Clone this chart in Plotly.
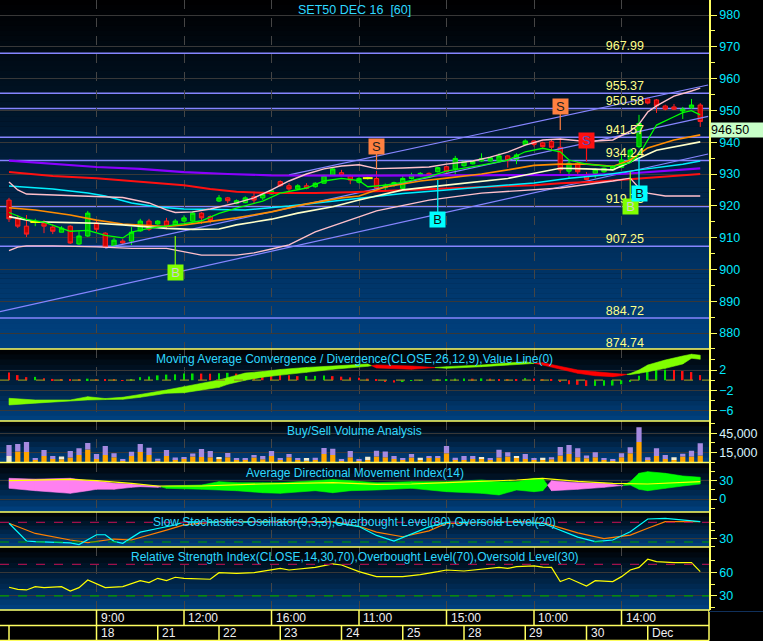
import plotly.graph_objects as go

# ======================= DATA =======================
# 60-minute bars, index 0..79
opens = [921.8,915.9,913.6,914.9,914.5,913.3,911.7,913.6,908.0,910.5,
         914.6,911.4,907.4,908.9,908.9,912.1,915.2,914.3,915.2,914.0,
         915.2,915.2,917.7,916.6,921.5,922.5,920.7,921.0,922.9,922.5,
         923.7,927.6,926.3,925.3,926.3,926.0,927.1,929.7,930.4,929.5,
         927.4,928.7,928.6,925.7,926.6,925.5,928.6,929.5,930.2,930.7,
         932.3,931.6,932.6,933.2,934.1,934.1,934.2,935.7,934.6,939.3,
         940.4,939.8,940.2,938.4,930.9,933.4,929.7,930.2,930.7,931.3,
         932.1,934.6,938.6,953.6,953.3,951.4,951.1,949.8,950.8,951.7]
highs = [922.5,917.1,917.1,915.9,915.5,914.2,913.6,913.9,912.0,918.4,
         915.2,911.7,909.9,909.6,913.3,915.9,915.9,915.5,916.2,915.8,
         917.0,918.4,918.0,917.0,923.4,922.8,922.0,923.0,924.4,924.4,
         925.0,928.0,927.1,926.8,927.1,927.4,929.8,932.2,931.3,929.8,
         929.0,929.2,931.0,927.0,927.6,929.7,930.4,930.6,930.5,932.3,
         932.6,935.7,934.2,934.2,936.5,935.4,936.5,936.0,936.5,940.9,
         940.6,940.2,940.7,941.2,934.4,933.8,930.6,931.8,932.0,932.8,
         936.0,938.0,948.6,954.0,953.6,951.8,952.0,951.1,953.6,952.3]
lows = [914.9,913.0,910.2,913.6,911.4,911.1,911.7,908.0,907.7,910.2,
        911.7,906.7,907.0,907.7,907.7,911.8,912.1,914.0,912.6,913.6,
        914.8,915.0,914.3,914.5,921.2,920.8,920.5,920.8,920.8,921.8,
        923.5,926.0,924.4,925.0,925.2,925.7,927.0,929.5,929.3,926.8,
        927.0,928.2,925.0,924.3,926.0,925.0,928.3,929.3,929.2,930.5,
        930.4,929.9,932.3,933.0,933.9,933.9,934.0,932.0,933.1,939.0,
        938.6,938.2,937.5,930.2,928.6,929.7,928.1,928.7,930.4,931.0,
        932.0,934.3,938.1,951.9,949.2,950.0,950.1,947.3,950.5,944.8]
closes = [915.9,913.6,911.1,914.9,913.6,912.0,913.0,908.3,910.5,917.7,
          912.6,907.0,909.2,908.3,911.7,915.2,912.6,915.2,913.6,915.2,
          916.2,917.7,916.2,915.4,922.5,921.6,921.6,922.5,921.8,923.6,
          924.7,926.3,925.3,926.3,925.5,927.1,929.5,931.6,929.5,928.1,
          928.6,928.7,925.5,926.5,927.3,928.6,929.7,930.2,929.5,932.0,
          930.7,934.9,933.9,933.9,934.9,935.1,935.7,934.2,936.0,940.4,
          939.3,938.6,938.4,931.3,933.4,930.7,928.3,931.5,931.8,932.3,
          934.4,937.5,945.9,952.3,951.4,950.4,950.4,950.4,951.7,946.5]
bars = list(range(len(closes)))

# x-axis labels
time_label_bars = [10, 20, 30, 40, 50, 60, 70]
time_labels = ["9:00", "12:00", "16:00", "11:00", "15:00", "10:00", "14:00"]
date_bars = [0, 10, 17, 24, 31, 38, 45, 52, 59, 66, 73]
date_labels = ["", "18", "21", "22", "23", "24", "25", "28", "29", "30", "Dec"]

# horizontal price levels
levels = [967.99, 955.37, 950.58, 941.57, 934.24, 919.75, 907.25, 884.72, 874.74]

# trend channel lines (start bar, start price, end bar, end price)
trend_x0 = [-1.03, 11, 32]
trend_y0 = [886.7, 906.7, 929.7]
trend_x1 = [79.9, 79.9, 79.9]
trend_y1 = [936.3, 948.1, 958.0]

# overlay lines on price panel (bar index, value)
purple_b = [0, 5, 10, 15, 20, 25, 30, 40, 50, 60, 66, 70, 74, 79]
purple_v = [934.2, 933.1, 932.2, 931.6, 930.6, 930.0, 929.6, 929.5, 929.5, 929.7, 929.7, 930.0, 930.9, 931.8]
red_b = [0, 5, 10, 15, 20, 23, 26, 30, 35, 39, 45, 50, 55, 60, 63, 67, 72, 77, 79]
red_v = [930.6, 929.4, 928.7, 927.6, 926.5, 925.3, 924.4, 924.0, 924.0, 924.3, 925.0, 925.6, 926.0, 926.5, 927.1, 927.6, 928.6, 929.4, 930.0]
cyan_b = [0, 5, 9, 11, 14, 17, 20, 27, 32, 37, 40, 45, 50, 55, 60, 64, 68, 72, 77, 79]
cyan_v = [926.2, 925.3, 924.0, 923.1, 920.9, 919.6, 919.0, 918.7, 919.9, 921.5, 922.5, 923.9, 925.0, 926.1, 927.2, 928.7, 929.7, 931.3, 933.1, 934.1]
bbu_b = [0, 1, 2, 5, 10, 13, 16, 18, 19, 21, 23, 26, 28, 30, 32, 34, 36, 38, 40, 42, 45, 48, 50, 53, 55, 57, 59, 61, 63, 66, 69, 71, 72, 73, 74, 76, 78, 79]
bbu_v = [927.5, 925.0, 923.7, 923.4, 922.9, 922.6, 920.9, 918.7, 917.9, 918.1, 919.0, 920.9, 922.5, 925.0, 927.8, 930.0, 931.6, 932.5, 932.9, 931.7, 931.9, 932.2, 933.1, 934.1, 935.3, 936.9, 939.1, 940.7, 941.0, 940.2, 940.7, 943.5, 945.7, 949.5, 951.4, 954.5, 956.1, 957.0]
bbl_b = [0, 1, 2, 5, 10, 14, 18, 20, 22, 26, 28, 30, 32, 35, 39, 42, 48, 54, 58, 63, 69, 71, 72, 73, 75, 79]
bbl_v = [905.9, 907.0, 907.4, 907.4, 907.1, 906.6, 906.6, 905.6, 904.5, 904.5, 905.2, 906.4, 907.7, 911.8, 915.5, 918.4, 921.8, 924.0, 924.7, 925.6, 927.8, 928.7, 925.6, 924.0, 923.1, 923.1]
orange_b = [0, 3, 7, 10, 13, 18, 20, 23, 26, 30, 34, 38, 40, 43, 47, 50, 54, 57, 60, 63, 66, 69, 71, 73, 76, 79]
orange_v = [919.4, 918.7, 917.1, 915.5, 914.3, 913.5, 914.0, 915.2, 916.2, 918.1, 920.6, 922.5, 923.1, 925.9, 927.8, 928.7, 930.0, 931.3, 932.7, 933.1, 933.1, 932.4, 934.4, 938.2, 940.7, 942.3]
cream_b = [0, 3, 7, 10, 13, 18, 21, 24, 26, 30, 33, 37, 40, 45, 50, 57, 59, 63, 66, 69, 71, 74, 79]
cream_v = [916.6, 915.0, 914.7, 914.5, 914.0, 912.9, 912.6, 912.7, 914.0, 915.8, 917.7, 919.7, 921.8, 925.0, 926.5, 928.6, 929.7, 931.8, 931.6, 931.3, 933.8, 937.5, 940.1]
green_b = [0, 1, 2, 4, 5, 7, 9, 11, 13, 14, 16, 18, 20, 22, 24, 26, 29, 31, 34, 36, 38, 40, 41, 43, 45, 48, 50, 54, 57, 59, 61, 63, 64, 66, 69, 71, 72, 73, 74, 76, 77, 78, 79]
green_v = [917.9, 916.8, 915.7, 914.9, 913.9, 912.0, 912.3, 910.7, 909.9, 911.7, 912.9, 913.6, 914.4, 915.3, 917.6, 919.3, 921.5, 924.0, 925.6, 927.8, 928.6, 927.9, 926.0, 926.5, 927.4, 929.2, 930.9, 932.8, 934.4, 937.0, 938.1, 937.0, 934.4, 933.1, 932.3, 933.6, 936.0, 940.7, 945.4, 948.0, 949.3, 949.9, 948.6]

# buy / sell signals
sig_bar = [42, 63, 66, 19, 49, 71, 72]
sig_text = ["S", "S", "S", "B", "B", "B", "B"]
sig_kind = ["s1", "s1", "s2", "b1", "b2", "b1", "b2"]
sig_box = [938.5, 951.1, 940.4, 898.9, 915.8, 919.9, 924.0]
sig_stem = [931.6, 943.8, 933.9, 910.5, 928.1, 930.7, 935.0]

# MACD(26,12,9)
macd_b = [0, 3, 7, 9, 11, 13, 15, 18, 20, 24, 25, 27, 29, 31, 34, 37, 41, 42, 46, 50, 54, 59, 61, 65, 67, 69, 70, 71, 72, 73, 75, 77, 78, 79]
macd_v = [-3.55, -3.88, -3.88, -3.24, -3.6, -3.35, -2.8, -1.92, -1.27, 0.04, 0.5, 1.4, 1.7, 2.1, 2.5, 2.78, 3.18, 2.4, 2.14, 2.65, 2.98, 3.63, 2.98, 1.35, 0.88, 0.69, 0.9, 1.3, 2.0, 2.98, 3.96, 4.75, 5.1, 4.9]
signal_v = [-4.86, -4.5, -4.08, -3.88, -3.8, -3.75, -3.35, -2.57, -2.45, -1.4, -0.8, 0.0, 0.6, 1.0, 1.55, 2.14, 2.73, 3.0, 2.78, 2.33, 2.65, 3.18, 3.43, 2.0, 1.67, 1.35, 1.2, 1.1, 1.35, 1.67, 2.33, 3.18, 4.3, 4.1]
macd_hist = [1.5, 1.0, 0.6, 0.65, 0.4, 0.25, 0.15, 0.1, 0.05, 0.3,
             0.2, 0.1, 0.05, 0.02, 0.15, 0.6, 0.75, 0.95, 1.1, 1.15,
             1.3, 1.32, 1.3, 1.28, 1.35, 1.45, 1.3, 1.28, 1.2, 1.15,
             1.1, 1.0, 0.95, 0.8, 0.82, 0.85, 0.9, 0.8, 0.7, 0.55,
             0.5, 0.3, 0.1, -0.33, -0.46, -0.2, -0.13, -0.05, 0.0, 0.05,
             0.1, 0.3, 0.35, 0.3, 0.35, 0.3, 0.25, 0.2, 0.18, 0.4,
             0.35, 0.2, 0.1, -0.33, -0.8, -0.9, -1.15, -1.12, -1.1, -1.05,
             -0.8, -0.3, 0.85, 1.8, 2.0, 2.05, 2.0, 1.8, 1.6, 1.0]

# Buy/Sell volume
vol_buy = [0, 16600, 16000, 3600, 9800, 5100, 4700, 7300, 11300, 19700,
           5100, 11300, 7800, 2600, 9800, 16000, 11300, 2600, 9800, 4700,
           5700, 8900, 8200, 7800, 6200, 7800, 4700, 4700, 7300, 4700,
           9800, 3600, 7800, 3600, 2600, 3600, 12900, 11300, 2600, 7800,
           2600, 3600, 8900, 7800, 5100, 3600, 7300, 3600, 7300, 7300,
           14000, 4700, 3600, 5100, 5100, 3600, 7300, 8900, 7300, 5100,
           3600, 3600, 4700, 10400, 12900, 7800, 6200, 7800, 3600, 2600,
           7800, 14000, 31500, 5100, 9800, 5100, 3600, 8900, 8900, 10400]
vol_neutral = [9800, 0, 0, 0, 0, 0, 4200, 0, 0, 0,
               0, 0, 0, 0, 0, 0, 0, 0, 0, 0,
               0, 0, 0, 0, 2000, 0, 0, 0, 0, 0,
               0, 0, 0, 0, 4200, 0, 0, 0, 0, 0,
               0, 5100, 0, 0, 0, 0, 0, 3600, 0, 0,
               0, 0, 0, 0, 3100, 0, 0, 0, 1600, 0,
               0, 3600, 0, 0, 0, 0, 0, 0, 0, 0,
               0, 0, 0, 0, 0, 0, 4200, 0, 0, 0]
vol_sell = [17100, 12000, 15500, 3100, 9300, 4700, 0, 10400, 10400, 10400,
            7800, 14000, 6200, 2600, 6700, 12400, 11300, 3100, 9300, 2600,
            1600, 4700, 12400, 9800, 0, 6700, 1100, 1100, 4200, 5100,
            7800, 2600, 5100, 2600, 0, 3600, 9300, 9800, 2600, 9800,
            2600, 0, 8900, 8900, 4700, 1600, 5700, 0, 2600, 2600,
            11300, 2300, 6200, 4700, 0, 1600, 12000, 6700, 0, 7800,
            2600, 0, 3100, 13500, 14000, 14000, 4200, 7800, 2600, 2600,
            6200, 9300, 22800, 2600, 12000, 6200, 0, 4200, 8900, 19100]

# ADX(14)
adx_b = [0, 3, 7, 9, 10, 12, 14, 15, 17, 18, 22, 24, 26, 29, 31, 35, 37, 39, 42, 46, 50, 54, 56, 58, 60, 61, 62, 65, 68, 70, 71, 72, 73, 75, 77, 79]
di_plus = [17.5, 13.6, 9.3, 13.6, 15.9, 15.9, 19.1, 20.2, 19.1, 21.3, 22.9, 28.4, 26.7, 26.7, 26.7, 30, 31.9, 30, 26.7, 28.4, 28.4, 31.1, 28.4, 28.4, 33.9, 33.9, 13.6, 15.9, 19.1, 21, 28.4, 42.1, 44.8, 42.1, 37.7, 35.6]
di_minus = [33.9, 32.5, 33.9, 30, 30, 25.7, 24.6, 22.9, 21.3, 17.5, 15.9, 14.8, 13.6, 10.3, 9.3, 13.6, 10.3, 13.6, 14.8, 17.5, 12, 9.3, 6.6, 14.8, 12, 13.6, 30, 26.7, 25.7, 22, 22.9, 15.9, 13.6, 17.5, 21.3, 24.6]
adxl_b = [0, 3, 7, 10, 12, 14, 17, 22, 29, 33, 37, 42, 46, 50, 54, 58, 61, 65, 69, 73, 79]
adxl_v = [30, 31.1, 32.2, 30, 28.4, 25.7, 21.3, 21.3, 24.6, 25.7, 26.7, 24, 24.6, 26.7, 28.4, 31.1, 33.9, 29, 25.7, 24.6, 28.4]

# Slow stochastics (9,3,3)
k_b = [0, 1, 2, 3, 5, 7, 8, 9, 10, 11, 12, 13, 15, 17, 19, 20, 25, 30, 37, 40, 42, 44, 46, 48, 50, 55, 58, 61, 63, 65, 67, 69, 71, 73, 75, 77, 79]
k_v = [77, 51, 23, 21, 20, 17, 12, 26, 42, 42, 22, 16, 50, 61, 72, 81, 81, 81, 80, 67, 40, 23, 44, 66, 80, 81, 80, 77, 55, 35, 21, 26, 51, 90, 92, 86, 82]
d_b = [0, 3, 7, 9, 12, 14, 18, 20, 24, 37, 40, 42, 45, 48, 50, 58, 61, 65, 68, 71, 73, 75, 79]
d_v = [77, 46, 26, 18, 29, 26, 56, 72, 82, 82, 68, 50, 36, 54, 77, 82, 79, 48, 30, 41, 62, 82, 82]
stoch_levels = [80, 20]

# RSI(14)
rsi_b = [0, 1, 2, 3, 4, 6, 7, 8, 9, 10, 11, 13, 15, 16, 17, 18, 19, 20, 23, 24, 26, 28, 31, 32, 35, 37, 38, 40, 42, 45,
         47, 49, 50, 52, 54, 56, 57, 58, 60, 61, 62, 63, 64, 66, 67, 69, 70, 71, 72, 73, 74, 76, 78, 79]
rsi_v = [41, 38.4, 37.6, 41.8, 40.5, 41.8, 36.3, 40.5, 50.2, 45.1, 40.5, 41.8, 49.3, 46.8, 52.3, 49.3, 53.6, 52.3, 51.1, 59.4,
         58.6, 59.4, 64.9, 62.8, 66.2, 70.4, 69.1, 60.7, 54.4, 54.4, 57, 60.7, 62.8, 61.5, 63.7, 66.2, 64.9, 67, 68, 66.5,
         66, 48.1, 52.3, 42.6, 49.3, 48.1, 54.4, 62.8, 66, 76.3, 73.3, 72.1, 72.1, 60.7]
rsi_levels = [70, 30]

# ======================= FIGURE =======================
FONT = "Liberation Sans, Arial, sans-serif"
YEL = "#ffff60"
TITLE_C = "#2ed8ff"
TICK_C = "#00e8ff"
PLOT_H = 610.0


def py(Y):
    return (PLOT_H - Y) / PLOT_H


panels = [(0, 349), (349, 421), (421, 462.5), (462.5, 512), (512, 547), (547, 610)]
doms = [[py(b), py(t)] for (t, b) in panels]

fig = go.Figure()
shapes = []
annotations = []

# gradient backgrounds
for (t, b) in panels:
    n = max(8, int((b - t) / 5))
    for k in range(n):
        f = (k + 0.5) / n
        col = "rgb(0,%d,%d)" % (round(66 * f), round(130 * f))
        shapes.append(dict(type="rect", xref="paper", yref="paper", x0=0, x1=1,
                           y0=py(t + (b - t) * (k + 1) / n + 0.4), y1=py(t + (b - t) * k / n),
                           fillcolor=col, line=dict(width=0), layer="below"))

# horizontal levels
for lv in levels:
    shapes.append(dict(type="line", xref="paper", yref="y", x0=0, x1=1, y0=lv, y1=lv,
                       line=dict(color="#8585ff", width=1.5), layer="below"))

# trend channel
for x0, y0, x1, y1 in zip(trend_x0, trend_y0, trend_x1, trend_y1):
    fig.add_trace(go.Scatter(x=[x0, x1], y=[y0, y1], mode="lines", xaxis="x", yaxis="y",
                             line=dict(color="#8585ff", width=1.2), hoverinfo="skip"))

# overlay lines
def add_line(bx, vy, color, width=1.4, yaxis="y"):
    fig.add_trace(go.Scatter(x=bx, y=vy, mode="lines", xaxis="x", yaxis=yaxis,
                             line=dict(color=color, width=width), hoverinfo="skip"))

add_line(purple_b, purple_v, "#8a00ff", 2.2)
add_line(red_b, red_v, "#ff1010", 2.0)
add_line(cyan_b, cyan_v, "#00f0ff", 1.5)
add_line(bbu_b, bbu_v, "#ffc0cb", 1.4)
add_line(bbl_b, bbl_v, "#ffc0cb", 1.4)
add_line(orange_b, orange_v, "#ff8c00", 1.6)
add_line(cream_b, cream_v, "#ffffc8", 1.6)

# candles
fig.add_trace(go.Candlestick(x=bars, open=opens, high=highs, low=lows, close=closes,
                             xaxis="x", yaxis="y", whiskerwidth=0,
                             increasing=dict(line=dict(color="#00ff00", width=1), fillcolor="#00b800"),
                             decreasing=dict(line=dict(color="#ff2020", width=1), fillcolor="#c80000"),
                             hoverinfo="skip"))
doji = [i for i in bars if opens[i] == closes[i]]
fig.add_trace(go.Scatter(x=doji, y=[closes[i] for i in doji], mode="markers", xaxis="x", yaxis="y",
                         marker=dict(symbol="line-ew", size=7, line=dict(color="#ffff00", width=2)),
                         hoverinfo="skip"))
add_line(green_b, green_v, "#00ff00", 1.3)

# level labels
fig.add_trace(go.Scatter(x=[68.2] * len(levels), y=levels, mode="text", xaxis="x", yaxis="y",
                         text=["%.2f" % v for v in levels], textposition="top right",
                         textfont=dict(family=FONT, size=12.5, color="#ffff88"),
                         cliponaxis=True, hoverinfo="skip"))

# signals
kind_style = {"s1": ("#ff8040", "#202020"), "s2": ("#ff1010", "#5050c0"),
              "b1": ("#80ff00", "#d0d0d0"), "b2": ("#00ffff", "#101010")}
for b, t, k, yb, ys in zip(sig_bar, sig_text, sig_kind, sig_box, sig_stem):
    bg, fc = kind_style[k]
    fig.add_trace(go.Scatter(x=[b, b], y=[yb, ys], mode="lines", xaxis="x", yaxis="y",
                             line=dict(color=bg, width=1.2), hoverinfo="skip"))
    annotations.append(dict(x=b, y=yb, xref="x", yref="y", text=t, showarrow=False,
                            bgcolor=bg, width=15, height=15, borderpad=0,
                            font=dict(family=FONT, size=13, color=fc)))

# ---- MACD panel ----
def band_polys(bx, a, b):
    px_p, py_p, px_n, py_n = [], [], [], []
    for k in range(len(bx) - 1):
        x0, x1 = bx[k], bx[k + 1]
        a0, a1, b0, b1 = a[k], a[k + 1], b[k], b[k + 1]
        d0, d1 = a0 - b0, a1 - b1
        if d0 * d1 < 0:
            t = d0 / (d0 - d1)
            xc = x0 + t * (x1 - x0)
            yc = a0 + t * (a1 - a0)
            segs = [(x0, a0, b0, xc, yc, yc, d0), (xc, yc, yc, x1, a1, b1, d1)]
        else:
            segs = [(x0, a0, b0, x1, a1, b1, d0 if d0 != 0 else d1)]
        for (xa, aa, ba, xb, ab, bb, d) in segs:
            xs = [xa, xb, xb, xa, xa, None]
            ys = [aa, ab, bb, ba, aa, None]
            if d >= 0:
                px_p += xs; py_p += ys
            else:
                px_n += xs; py_n += ys
    return px_p, py_p, px_n, py_n


mp_x, mp_y, mn_x, mn_y = band_polys(macd_b, macd_v, signal_v)
fig.add_trace(go.Scatter(x=mp_x, y=mp_y, fill="toself", mode="lines", xaxis="x", yaxis="y2",
                         fillcolor="#80ff00", line=dict(color="#80ff00", width=0.6), hoverinfo="skip"))
fig.add_trace(go.Scatter(x=mn_x, y=mn_y, fill="toself", mode="lines", xaxis="x", yaxis="y2",
                         fillcolor="#ff0000", line=dict(color="#ff0000", width=0.6), hoverinfo="skip"))
hist_col = ["#00e000" if (i > 0 and macd_hist[i] >= macd_hist[i - 1]) else "#ff1010" for i in bars]
fig.add_trace(go.Bar(x=bars, y=macd_hist, xaxis="x", yaxis="y2", width=0.18,
                     marker=dict(color=hist_col, line=dict(width=0)), hoverinfo="skip"))
shapes.append(dict(type="line", xref="paper", yref="y2", x0=0, x1=1, y0=0, y1=0,
                   line=dict(color="#8a8a20", width=1.2, dash="dash")))

# ---- Volume panel ----
base_neu = [vol_buy[i] for i in bars]
base_sell = [vol_buy[i] + vol_neutral[i] for i in bars]
fig.add_trace(go.Bar(x=bars, y=vol_buy, xaxis="x", yaxis="y3", width=0.6,
                     marker=dict(color="#ffa500", line=dict(width=0)), hoverinfo="skip"))
fig.add_trace(go.Bar(x=bars, y=vol_neutral, base=base_neu, xaxis="x", yaxis="y3", width=0.6,
                     marker=dict(color="#f2ecd0", line=dict(width=0)), hoverinfo="skip"))
fig.add_trace(go.Bar(x=bars, y=vol_sell, base=base_sell, xaxis="x", yaxis="y3", width=0.6,
                     marker=dict(color="#a58ae0", line=dict(width=0)), hoverinfo="skip"))

# ---- ADX panel ----
ap_x, ap_y, an_x, an_y = band_polys(adx_b, di_plus, di_minus)
fig.add_trace(go.Scatter(x=ap_x, y=ap_y, fill="toself", mode="lines", xaxis="x", yaxis="y4",
                         fillcolor="#00ff00", line=dict(color="#00ff00", width=0.6), hoverinfo="skip"))
fig.add_trace(go.Scatter(x=an_x, y=an_y, fill="toself", mode="lines", xaxis="x", yaxis="y4",
                         fillcolor="#ff80f0", line=dict(color="#ff80f0", width=0.6), hoverinfo="skip"))
add_line(adxl_b, adxl_v, "#ffff00", 1.2, "y4")

# ---- Stochastics panel ----
for lv, c in zip(stoch_levels, ["#a0104a", "#00a000"]):
    shapes.append(dict(type="line", xref="paper", yref="y5", x0=0, x1=1, y0=lv, y1=lv,
                       line=dict(color=c, width=1.2, dash="dash")))
add_line(d_b, d_v, "#ff8000", 1.2, "y5")
add_line(k_b, k_v, "#00ffff", 1.2, "y5")

# ---- RSI panel ----
for lv, c in zip(rsi_levels, ["#a0104a", "#00a000"]):
    shapes.append(dict(type="line", xref="paper", yref="y6", x0=0, x1=1, y0=lv, y1=lv,
                       line=dict(color=c, width=1.2, dash="dash")))
add_line(rsi_b, rsi_v, "#ffff00", 1.2, "y6")

# panel separators
for (t, b) in panels:
    shapes.append(dict(type="line", xref="paper", yref="paper", x0=0, x1=1, y0=py(b), y1=py(b),
                       line=dict(color=YEL, width=1.5)))

# bottom axis rows
r1, r2 = py(625.5), py(640.5)
shapes.append(dict(type="line", xref="paper", yref="paper", x0=0, x1=1, y0=r1, y1=r1, line=dict(color=YEL, width=1.5)))
shapes.append(dict(type="line", xref="paper", yref="paper", x0=0, x1=1, y0=r2, y1=r2, line=dict(color=YEL, width=1.5)))
shapes.append(dict(type="line", xref="paper", yref="paper", x0=1, x1=1, y0=0, y1=r2, line=dict(color=YEL, width=1.5)))
shapes.append(dict(type="line", xref="paper", yref="paper", x0=1, x1=1.08, y0=py(611.5), y1=py(611.5),
                   line=dict(color="#10305a", width=1)))
for b in time_label_bars:
    shapes.append(dict(type="line", xref="x", yref="paper", x0=b, x1=b, y0=0, y1=r1, line=dict(color=YEL, width=1.5)))
for b in date_bars:
    shapes.append(dict(type="line", xref="x", yref="paper", x0=b, x1=b, y0=r1, y1=r2, line=dict(color=YEL, width=1.5)))
for b, t in zip(time_label_bars, time_labels):
    annotations.append(dict(x=b, y=(0 + r1) / 2, xref="x", yref="paper", text=t, showarrow=False,
                            xanchor="left", yanchor="middle", xshift=2,
                            font=dict(family=FONT, size=12, color="#f0f0f0")))
for b, t in zip(date_bars, date_labels):
    if t:
        annotations.append(dict(x=b, y=(r1 + r2) / 2, xref="x", yref="paper", text=t, showarrow=False,
                                xanchor="left", yanchor="middle", xshift=2,
                                font=dict(family=FONT, size=12, color="#f0f0f0")))

# titles
titles = ["SET50 DEC 16\u00a0\u00a0[60]",
          "Moving Average Convergence / Divergence(CLOSE,26,12,9),Value Line(0)",
          "Buy/Sell Volume Analysis",
          "Average Directional Movement Index(14)",
          "Slow Stochastics Oscillator(9,3,3),Overbought Level(80),Oversold Level(20)",
          "Relative Strength Index(CLOSE,14,30,70),Overbought Level(70),Oversold Level(30)"]
title_sizes = [12.5, 12, 12, 12, 12, 12]
for d, t, s in zip(doms, titles, title_sizes):
    annotations.append(dict(x=0.5, y=d[1], xref="paper", yref="paper", text=t, showarrow=False,
                            xanchor="center", yanchor="top", yshift=-1,
                            font=dict(family=FONT, size=s, color=TITLE_C)))

# last price tag
annotations.append(dict(x=1, y=closes[-1], xref="paper", yref="y", text="%.2f" % closes[-1],
                        showarrow=False, xanchor="left", yanchor="top", align="left",
                        bgcolor="#c8ffc8", width=52, height=14, borderpad=0, xshift=1,
                        font=dict(family=FONT, size=12.5, color="#000000")))


def yax(i, rng, tickvals, ticktext=None, minor=None, tickcolor=TICK_C):
    d = dict(domain=doms[i], range=rng, side="right", anchor="x",
             tickmode="array", tickvals=tickvals, ticks="outside", ticklen=6, tickwidth=1,
             tickcolor=YEL, showline=True, linecolor=YEL, linewidth=1.5,
             showgrid=True, gridcolor="#383838", gridwidth=1, zeroline=False,
             tickfont=dict(family=FONT, size=12.5, color=tickcolor), fixedrange=True)
    if ticktext is not None:
        d["ticktext"] = ticktext
    if minor is not None:
        d["minor"] = dict(tickmode="array", tickvals=minor, ticks="outside", ticklen=4,
                          tickcolor=YEL, showgrid=False)
    return d


layout = dict(
    width=763, height=641, margin=dict(l=0, r=54, t=0, b=31),
    paper_bgcolor="#000000", plot_bgcolor="rgba(0,0,0,0)",
    showlegend=False, barmode="overlay", hovermode=False,
    xaxis=dict(domain=[0, 1], range=[-1.03, 80.0], anchor="y6", showticklabels=False,
               ticks="", tickmode="array", tickvals=time_label_bars, showgrid=True,
               gridcolor="#454545", griddash="dash", gridwidth=1, zeroline=False,
               showline=False, rangeslider=dict(visible=False), fixedrange=True),
    yaxis=yax(0, [874.97, 984.72], list(range(880, 981, 10)), minor=list(range(875, 985, 10))),
    yaxis2=yax(1, [-8.0, 6.12], [2, -2, -6], minor=[4, 0, -4]),
    yaxis3=yax(2, [-300, 64100], [15000, 45000], ["15,000", "45,000"], minor=[0, 30000, 60000],
               tickcolor="#d8f4ff"),
    yaxis4=yax(3, [-21.3, 59.8], [30, 0], minor=[45, 15, -15]),
    yaxis5=yax(4, [4.7, 111.4], [30], minor=[5, 55, 80]),
    yaxis6=yax(5, [12.3, 91.8], [60, 30], minor=[15, 45, 75]),
    shapes=shapes, annotations=annotations,
)
fig.update_layout(**layout)
fig.write_html("out.html", config={"displayModeBar": False},
               post_script="document.body.style.margin='0';document.body.style.background='#000';")
